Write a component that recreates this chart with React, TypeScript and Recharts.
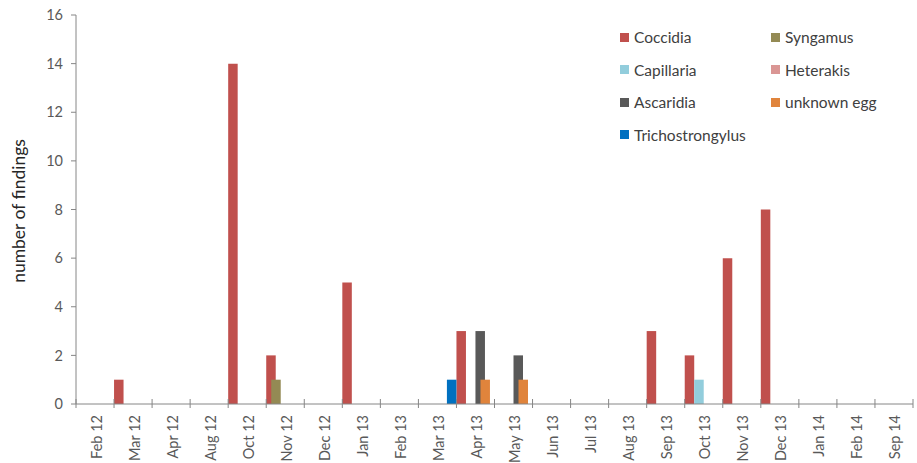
import { Bar, BarChart, Legend, XAxis, YAxis } from 'recharts';

const MONTHS = [
  'Feb 12', 'Mar 12', 'Apr 12', 'Aug 12', 'Oct 12', 'Nov 12', 'Dec 12', 'Jan 13',
  'Feb 13', 'Mar 13', 'Apr 13', 'May 13', 'Jun 13', 'Jul 13', 'Aug 13', 'Sep 13',
  'Oct 13', 'Nov 13', 'Dec 13', 'Jan 14', 'Feb 14', 'Sep 14',
];

// findings per month, one list per parasite (null = nothing found)
const COCCIDIA = [null, 1, null, null, 14, 2, null, 5, null, null, 3, null, null, null, null, 3, 2, 6, 8, null, null, null];
const CAPILLARIA = [null, null, null, null, null, null, null, null, null, null, null, null, null, null, null, null, 1, null, null, null, null, null];
const ASCARIDIA = [null, null, null, null, null, null, null, null, null, null, 3, 2, null, null, null, null, null, null, null, null, null, null];
const TRICHOSTRONGYLUS = [null, null, null, null, null, null, null, null, null, 1, null, null, null, null, null, null, null, null, null, null, null, null];
const SYNGAMUS = [null, null, null, null, null, 1, null, null, null, null, null, null, null, null, null, null, null, null, null, null, null, null];
const HETERAKIS = [null, null, null, null, null, null, null, null, null, null, null, null, null, null, null, null, null, null, null, null, null, null];
const UNKNOWN_EGG = [null, null, null, null, null, null, null, null, null, null, 1, 1, null, null, null, null, null, null, null, null, null, null];

const Y_TICKS = [0, 2, 4, 6, 8, 10, 12, 14, 16];

// first group fills the whole month slot, second group sits centred on top of it
const MAIN_SERIES = [
  { key: 'Coccidia', values: COCCIDIA, color: '#C0504D' },
  { key: 'Capillaria', values: CAPILLARIA, color: '#92CDDC' },
  { key: 'Ascaridia', values: ASCARIDIA, color: '#595959' },
  { key: 'Trichostrongylus', values: TRICHOSTRONGYLUS, color: '#0070C0' },
];
const OVERLAY_SERIES = [
  { key: 'Syngamus', values: SYNGAMUS, color: '#948A54' },
  { key: 'Heterakis', values: HETERAKIS, color: '#DA9694' },
  { key: 'unknown egg', values: UNKNOWN_EGG, color: '#E0843C' },
];

const FONT = 'Lato, "Open Sans", sans-serif';
const AXIS = '#868686';
const TEXT = '#595959';

const data = MONTHS.map((month, i) => {
  const row: Record<string, string | number | null> = { month };
  [...MAIN_SERIES, ...OVERLAY_SERIES].forEach((s) => {
    row[s.key] = s.values[i];
  });
  return row;
});

function MonthTick(props: any) {
  const { x, y, payload, index } = props;
  const half = payload?.offset ?? 19;
  const ty = y + 11;
  return (
    <g>
      <line x1={x - half} x2={x - half} y1={y - 5} y2={y + 4} stroke={AXIS} />
      {index === MONTHS.length - 1 && (
        <line x1={x + half} x2={x + half} y1={y - 5} y2={y + 4} stroke={AXIS} />
      )}
      <text
        x={x + 1}
        y={ty}
        transform={`rotate(-90 ${x + 1} ${ty})`}
        textAnchor="end"
        dominantBaseline="central"
        fill={TEXT}
        fontSize={14.5}
        fontFamily={FONT}
      >
        {payload.value}
      </text>
    </g>
  );
}

function LegendGrid() {
  // column-major: four rows in the left column, the rest on the right
  const items = [...MAIN_SERIES, ...OVERLAY_SERIES];
  return (
    <div style={{ position: 'relative', width: 300, height: 130 }}>
      {items.map((s, i) => {
        const col = i < 4 ? 0 : 1;
        const row = i < 4 ? i : i - 4;
        return (
          <div
            key={s.key}
            style={{
              position: 'absolute',
              left: col * 151,
              top: row * 32.5,
              display: 'flex',
              alignItems: 'center',
              fontFamily: FONT,
              fontSize: 15.5,
              color: '#404040',
              whiteSpace: 'nowrap',
              lineHeight: '18px',
            }}
          >
            <span style={{ width: 9, height: 9, background: s.color, marginRight: 5 }} />
            {s.key}
          </div>
        );
      })}
    </div>
  );
}

export default function App() {
  return (
    <div style={{ position: 'absolute', left: 0, top: 0, background: '#fff' }}>
      <BarChart
        width={917}
        height={463}
        data={data}
        barGap={0}
        margin={{ top: 15, right: 4, left: 0, bottom: 0 }}
      >
        <XAxis
          xAxisId="main"
          dataKey="month"
          interval={0}
          height={59}
          tickSize={0}
          tickMargin={0}
          tickLine={false}
          axisLine={{ stroke: AXIS }}
          tick={<MonthTick />}
        />
        <XAxis xAxisId="overlay" dataKey="month" hide />
        <YAxis
          domain={[0, 16]}
          ticks={Y_TICKS}
          interval={0}
          width={76}
          tickSize={5}
          tickMargin={8}
          axisLine={{ stroke: AXIS }}
          tickLine={{ stroke: AXIS }}
          tick={{ fill: TEXT, fontSize: 14.5, fontFamily: FONT }}
          label={{
            content: () => (
              <text
                x={18}
                y={211}
                transform="rotate(-90 18 211)"
                textAnchor="middle"
                dominantBaseline="central"
                fill="#262626"
                fontSize={17.5}
                fontFamily={FONT}
              >
                number of findings
              </text>
            ),
          }}
        />
        <Legend
          layout="vertical"
          align="center"
          verticalAlign="middle"
          wrapperStyle={{ top: 28, left: 620, width: 300, height: 130 }}
          content={() => <LegendGrid />}
        />
        {MAIN_SERIES.map((s) => (
          <Bar
            key={s.key}
            xAxisId="main"
            dataKey={s.key}
            fill={s.color}
            barSize={9.5}
            isAnimationActive={false}
          />
        ))}
        {OVERLAY_SERIES.map((s) => (
          <Bar
            key={s.key}
            xAxisId="overlay"
            dataKey={s.key}
            fill={s.color}
            barSize={9.5}
            isAnimationActive={false}
          />
        ))}
      </BarChart>
    </div>
  );
}
